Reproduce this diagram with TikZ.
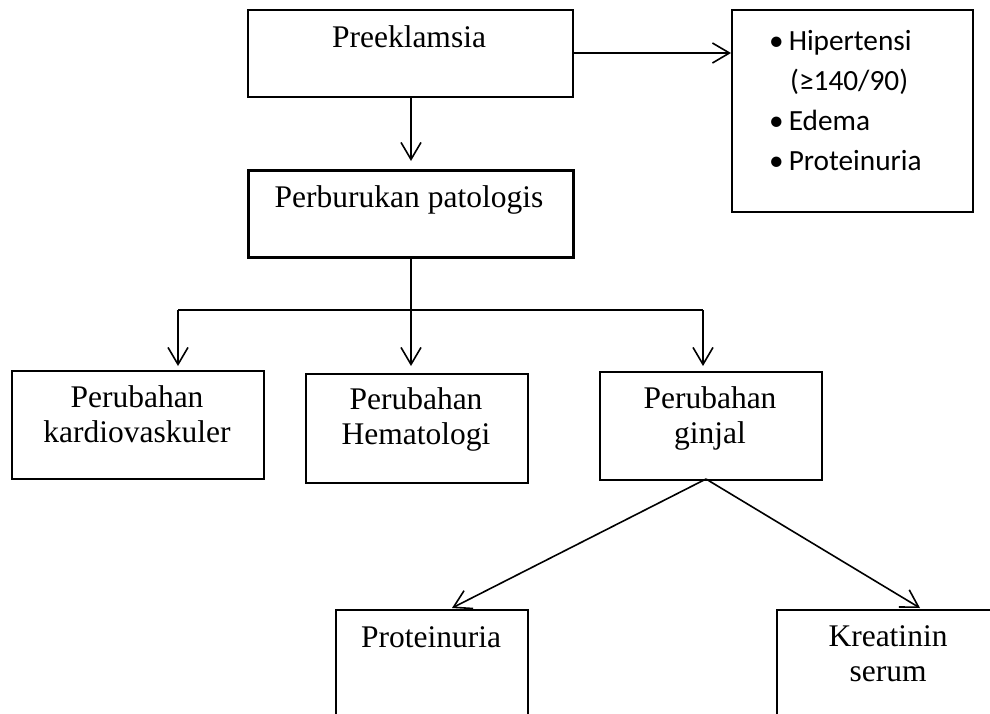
\documentclass[tikz,border=0pt]{standalone}
\usepackage{fontspec}
\setmainfont{Liberation Serif}
\newfontfamily\calib{Carlito}
\usetikzlibrary{arrows.meta}
\begin{document}
\begin{tikzpicture}[x=1pt,y=-1pt,
  box/.style={draw,line width=1.6pt,inner sep=0pt,anchor=north west},
  txt/.style={anchor=base,align=center,inner sep=0pt,font=\fontsize{31.5}{35}\selectfont},
  arr/.style={line width=1.6pt,-{Straight Barb[length=17pt,width=20pt,line width=1.6pt]}},
  ln/.style={line width=1.6pt}]
\clip (0,0) rectangle (990,713);
\fill[white] (0,0) rectangle (990,713);
% boxes
\node[box,minimum width=325pt,minimum height=87pt] (pre) at (247,9) {};
\node[box,minimum width=241pt,minimum height=202pt] (sym) at (731,9) {};
\node[box,line width=3pt,minimum width=325pt,minimum height=87pt] (pat) at (247,169) {};
\node[box,minimum width=252pt,minimum height=108pt] (kar) at (11,370) {};
\node[box,minimum width=222pt,minimum height=109pt] (hem) at (305,373) {};
\node[box,minimum width=222pt,minimum height=108pt] (gin) at (599,371) {};
\node[box,minimum width=192pt,minimum height=130pt] (pro) at (335,609) {};
\node[box,minimum width=224pt,minimum height=130pt] (kre) at (776,609) {};
% texts (base anchor = baseline of last line)
\node[txt] (tpre) at (409,47) {Preeklamsia};
\node[txt] (tpat) at (409,207) {Perburukan patologis};
\node[txt] (tkar) at (137,442) {Perubahan\\kardiovaskuler};
\node[txt] (them) at (416,444) {Perubahan\\Hematologi};
\node[txt] (tgin) at (710,443) {Perubahan\\ginjal};
\node[txt] (tpro) at (431,647) {Proteinuria};
\node[txt] (tkre) at (888,681) {Kreatinin\\serum};
\node[anchor=base west,align=left,inner sep=0pt,font=\calib\fontsize{29.3}{40}\selectfont] (tsym) at (769,170)
  {\textbullet\hspace{5pt}Hipertensi\\\hspace{21pt}(≥140/90)\\\textbullet\hspace{5pt}Edema\\\textbullet\hspace{5pt}Proteinuria};
% connectors
\coordinate (tee) at (411,310);
\coordinate (lft) at (178,310);
\coordinate (rgt) at (703,310);
\coordinate (gb) at (706,479);
\draw[arr] (pre.east |- 0,53) -- (sym.west |- 0,53);
\draw[arr] (411,96) -- (411,161);
\draw[ln] (411,256) -- (tee);
\draw[ln] (lft) -- (rgt);
\draw[arr] (lft) -- (178,366);
\draw[arr] (tee) -- (411,366);
\draw[arr] (rgt) -- (703,366);
\draw[arr] (gb) -- (452,608);
\draw[arr] (gb) -- (920,608);
\end{tikzpicture}
\end{document}
